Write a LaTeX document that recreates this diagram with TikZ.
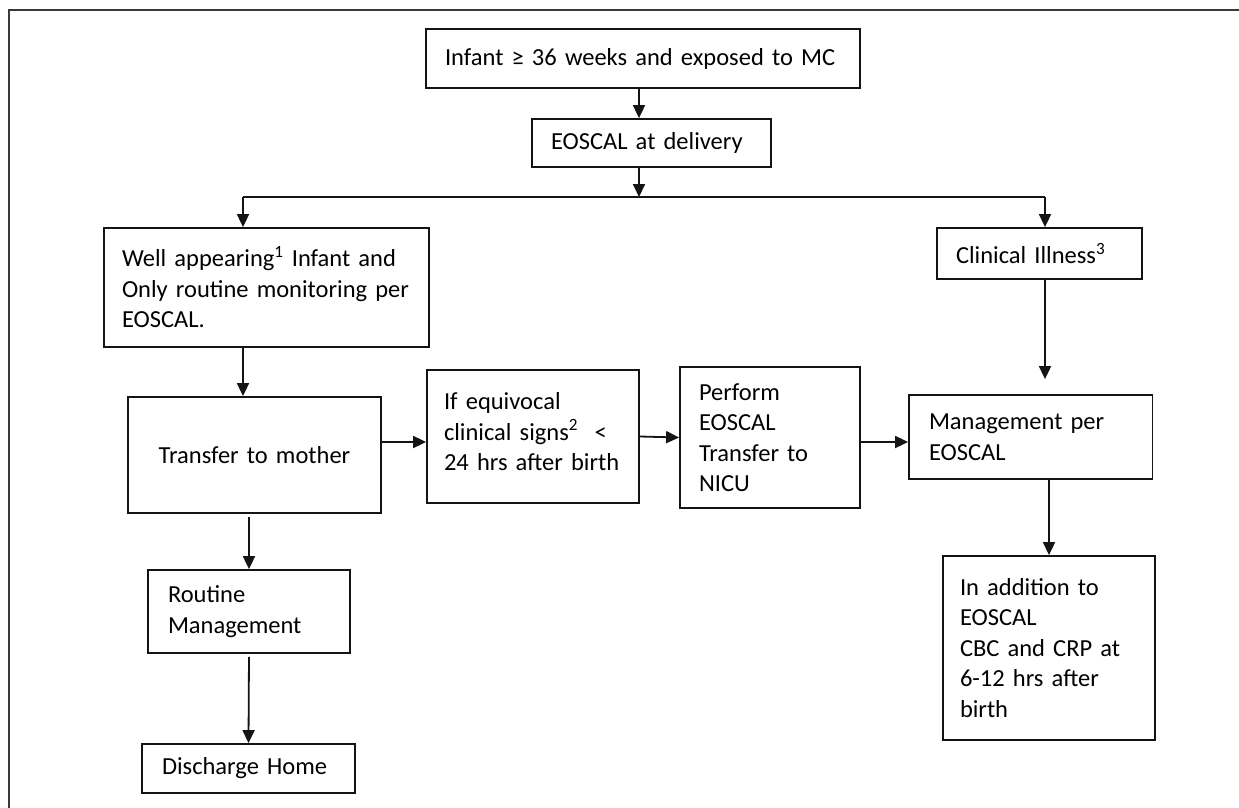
\documentclass[tikz,border=0pt]{standalone}
\usepackage{fontspec}
\setmainfont{Carlito}
\usepackage{tikz}
\usetikzlibrary{calc,arrows.meta,positioning}
\definecolor{inkx}{HTML}{141414}
\definecolor{framex}{HTML}{3A3A3A}
\tikzset{
  ar/.style={-{Triangle[length=13pt,width=12pt]},line width=1.8pt,inkx},
  box/.style={draw=inkx,line width=1.8pt,align=left,inner xsep=19pt,inner ysep=0pt,font=\fontsize{24.5}{30.5}\selectfont}
}

\begin{document}
\begin{tikzpicture}[x=1pt,y=-1pt]
\useasboundingbox (0,0) rectangle (1239,808);
\draw[framex,line width=1.5pt] (1239,10) -- (9,10) -- (9,808);
\node[box,text width=396pt,minimum height=59pt] (inf) at (643,58.5) {Infant ≥ 36 weeks and exposed to MC};
\node[box,text width=201pt,minimum height=48pt] (eos) at (651.5,143) {EOSCAL at delivery};
\node[box,inner xsep=18pt,text width=289pt,minimum height=119pt] (well) at (266.5,287.5) {Well appearing\textsuperscript{1} Infant and\\Only routine monitoring per\\EOSCAL.};
\node[box,text width=167pt,minimum height=51pt] (ill) at (1039.5,253.5) {Clinical Illness\textsuperscript{3}};
\node[box,align=center,text width=215pt,minimum height=116pt] (moth) at (254.5,455) {Transfer to mother};
\node[box,inner xsep=17pt,text width=178pt,minimum height=133pt,text depth=71pt] (equiv) at (533,436.5) {If equivocal\\clinical signs\textsuperscript{2}\ \ <\\24 hrs after birth};
\node[box,text width=142pt,minimum height=141pt] (perf) at (770,437.5) {Perform\\EOSCAL\\Transfer to\\NICU};
\node[box,inner xsep=20pt,text width=203.5pt,minimum height=84pt] (mgmt) at (1030.75,437) {Management per\\EOSCAL};
\node[box,inner xsep=17pt,text width=178pt,minimum height=184pt] (addn) at (1049,648) {In addition to\\EOSCAL\\CBC and CRP at\\6-12 hrs after\\birth};
\node[box,inner xsep=20pt,text width=162pt,minimum height=83pt] (rout) at (249,611.5) {Routine\\Management};
\node[box,inner xsep=20pt,text width=173pt,minimum height=49pt] (disch) at (248.5,768.5) {Discharge Home};
\coordinate (j) at (639,197);
\coordinate (bl) at (243,197);
\coordinate (br) at (1045,197);
\coordinate (m1) at ($(moth.east)+(0,-13)$);
\coordinate (p1) at ($(perf.east)+(0,4.5)$);
\draw[ar] (inf.south -| j) -- (eos.north -| j);
\draw[line width=1.8pt,inkx] (bl) -- (br);
\draw[ar] (eos.south -| j) -- (j);
\draw[ar] (bl) -- (well.north -| bl);
\draw[ar] (br) -- (ill.north -| br);
\draw[ar] (well.south -| bl) -- (moth.north -| bl);
\draw[ar] (m1) -- (m1 -| equiv.west);
\draw[ar] (equiv.east) -- (perf.west);
\draw[ar] (p1) -- (p1 -| mgmt.west);
\draw[ar,shorten >=15pt] (ill.south -| br) -- (mgmt.north -| br);
\draw[ar] (mgmt.south -| addn) -- (addn.north);
\draw[ar,shorten <=3pt] (moth.south -| rout) -- (rout.north);
\draw[ar,shorten <=3pt] (rout.south) -- (disch.north);
\end{tikzpicture}
\end{document}
